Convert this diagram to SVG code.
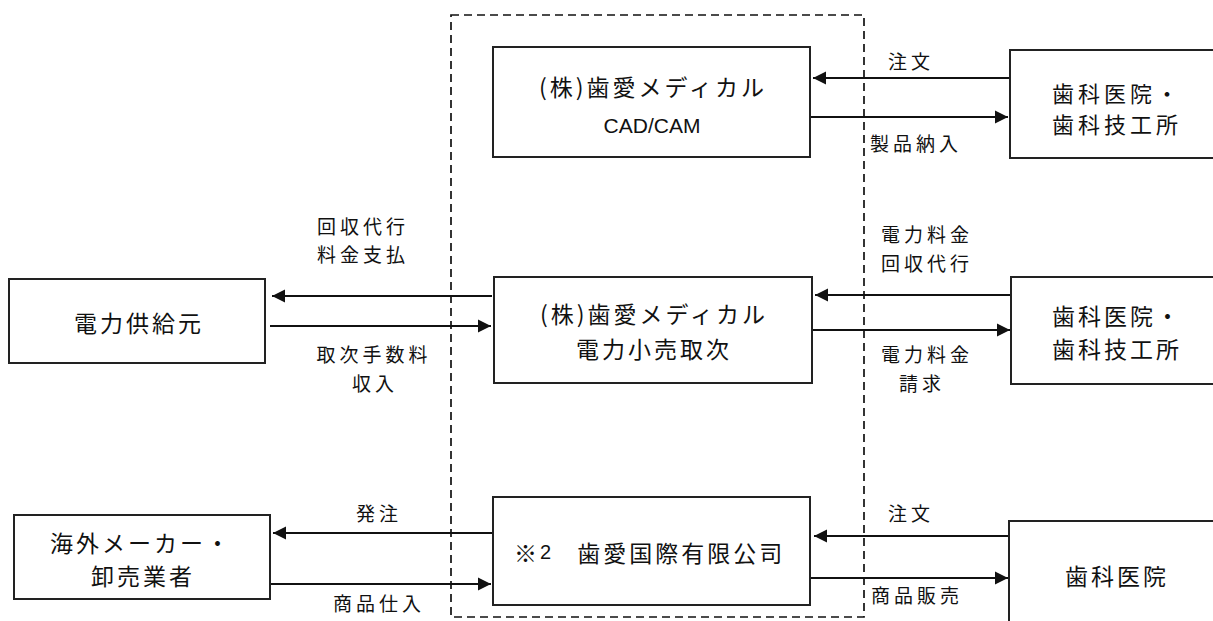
<svg xmlns="http://www.w3.org/2000/svg" width="1213" height="621" viewBox="0 0 1213 621">
<style>
.box{fill:#fff;stroke:#222;stroke-width:2}
.frame{fill:none;stroke:#111;stroke-width:1.7;stroke-dasharray:8 5}
.ln{stroke:#111;stroke-width:2;fill:none}
.t{font-family:"Noto Sans CJK JP","Noto Sans",sans-serif;font-size:23px;letter-spacing:3px;fill:#111;dominant-baseline:central}
.t2{font-family:"Noto Sans CJK JP","Noto Sans",sans-serif;font-size:22px;letter-spacing:4px;fill:#111;dominant-baseline:central}
.lab{font-family:"Noto Sans CJK JP","Noto Sans",sans-serif;font-size:19px;letter-spacing:4px;fill:#111;dominant-baseline:central}
.lat{font-family:"Liberation Sans",sans-serif;font-size:20px;fill:#111;dominant-baseline:central}
.m{text-anchor:middle}
</style>
<defs>
<marker id="ah" markerUnits="userSpaceOnUse" markerWidth="14" markerHeight="14" viewBox="0 0 14 14" refX="13" refY="7" orient="auto">
<path d="M0,0.5 L13,7 L0,13.5 Z" fill="#111"/>
</marker>
</defs>
<rect class="frame" x="451" y="15" width="413" height="602"/>
<g id="connectors">
<line class="ln" x1="1009" y1="78" x2="813" y2="78" marker-end="url(#ah)"/>
<line class="ln" x1="811" y1="117" x2="1008" y2="117" marker-end="url(#ah)"/>
<line class="ln" x1="492" y1="296" x2="272" y2="296" marker-end="url(#ah)"/>
<line class="ln" x1="270" y1="326" x2="491" y2="326" marker-end="url(#ah)"/>
<line class="ln" x1="1011" y1="295" x2="815" y2="295" marker-end="url(#ah)"/>
<line class="ln" x1="812" y1="330" x2="1010" y2="330" marker-end="url(#ah)"/>
<line class="ln" x1="492" y1="533" x2="273" y2="533" marker-end="url(#ah)"/>
<line class="ln" x1="271" y1="584" x2="491" y2="584" marker-end="url(#ah)"/>
<line class="ln" x1="1009" y1="536" x2="814" y2="536" marker-end="url(#ah)"/>
<line class="ln" x1="811" y1="578" x2="1008" y2="578" marker-end="url(#ah)"/>
<text class="lab" x="888" y="60">注文</text>
<text class="lab" x="870" y="142">製品納入</text>
<text class="lab m" x="363" y="225">回収代行</text>
<text class="lab m" x="363" y="253">料金支払</text>
<text class="lab m" x="374" y="353">取次手数料</text>
<text class="lab m" x="375" y="382">収入</text>
<text class="lab" x="881" y="233">電力料金</text>
<text class="lab" x="881" y="262">回収代行</text>
<text class="lab" x="881" y="353">電力料金</text>
<text class="lab m" x="922" y="382">請求</text>
<text class="lab m" x="379" y="512">発注</text>
<text class="lab m" x="379" y="602">商品仕入</text>
<text class="lab" x="888" y="512">注文</text>
<text class="lab" x="871" y="594">商品販売</text>
</g>
<g id="cadcam">
<rect class="box" x="493" y="47" width="317" height="110"/>
<text class="t m" x="653" y="86">(株)歯愛メディカル</text>
<text class="lat m" x="652" y="125" style="font-size:21px">CAD/CAM</text>
</g>
<g id="clinic1">
<rect class="box" x="1010" y="50" width="220" height="108"/>
<text class="t2" x="1052" y="91.5">歯科医院・</text>
<text class="t2" x="1052" y="123">歯科技工所</text>
</g>
<g id="supplier">
<rect class="box" x="9" y="279" width="256" height="84"/>
<text class="t m" x="139" y="322">電力供給元</text>
</g>
<g id="power">
<rect class="box" x="494" y="277" width="318" height="106"/>
<text class="t m" x="654" y="313">(株)歯愛メディカル</text>
<text class="t m" x="654" y="348">電力小売取次</text>
</g>
<g id="clinic2">
<rect class="box" x="1011" y="277" width="220" height="107"/>
<text class="t" x="1052" y="315">歯科医院・</text>
<text class="t" x="1052" y="348">歯科技工所</text>
</g>
<g id="overseas">
<rect class="box" x="14" y="515" width="256" height="84"/>
<text class="t m" x="141" y="542">海外メーカー・</text>
<text class="t m" x="143" y="575">卸売業者</text>
</g>
<g id="intl">
<rect class="box" x="493" y="497" width="317" height="108"/>
<text class="t" x="514" y="552">※<tspan class="lat" letter-spacing="0">2</tspan>　歯愛国際有限公司</text>
</g>
<g id="clinic3">
<rect class="box" x="1009" y="521" width="220" height="120"/>
<text class="t m" x="1117" y="575">歯科医院</text>
</g>
</svg>
